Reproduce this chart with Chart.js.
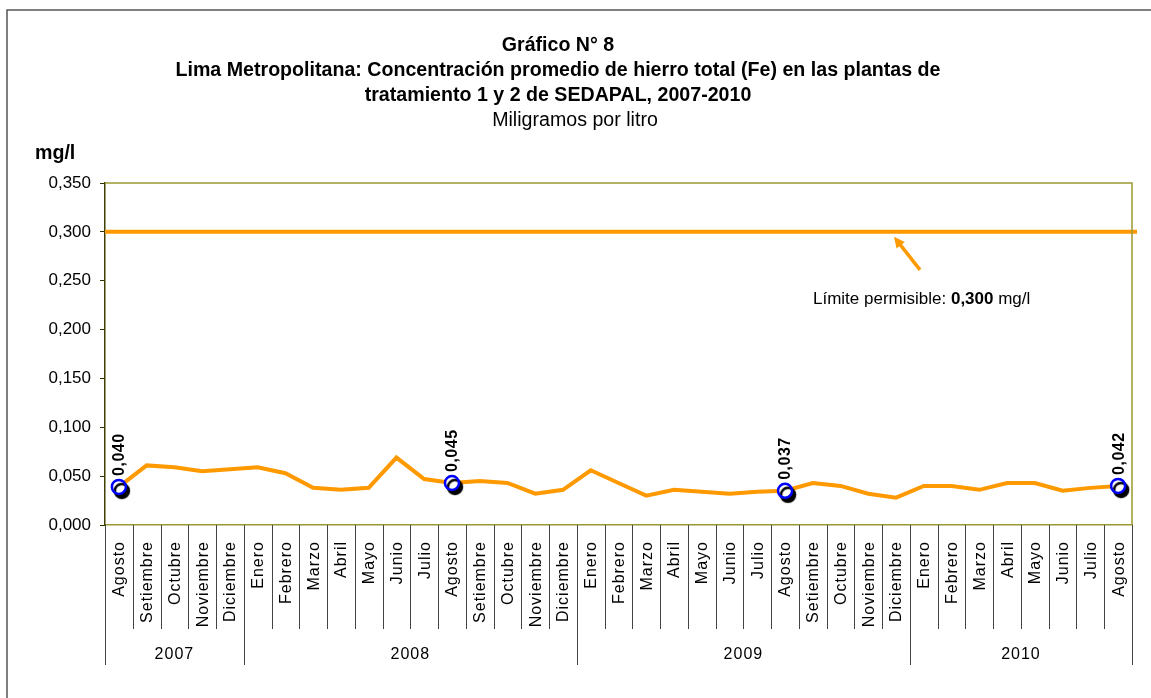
<!DOCTYPE html>
<html>
<head>
<meta charset="utf-8">
<script src="https://cdn.jsdelivr.net/npm/chart.js@4"></script>
<style>
  html, body { margin: 0; padding: 0; background: #fff; }
  #wrap { width: 1151px; height: 698px; position: relative; }
</style>
</head>
<body>
<div id="wrap"><canvas id="feChart" width="1151" height="698"></canvas></div>
<script>
// Meses (Agosto 2007 - Agosto 2010)
const months = [
  'Agosto', 'Setiembre', 'Octubre', 'Noviembre', 'Diciembre',
  'Enero', 'Febrero', 'Marzo', 'Abril', 'Mayo', 'Junio', 'Julio', 'Agosto', 'Setiembre', 'Octubre', 'Noviembre', 'Diciembre',
  'Enero', 'Febrero', 'Marzo', 'Abril', 'Mayo', 'Junio', 'Julio', 'Agosto', 'Setiembre', 'Octubre', 'Noviembre', 'Diciembre',
  'Enero', 'Febrero', 'Marzo', 'Abril', 'Mayo', 'Junio', 'Julio', 'Agosto'
];
const years = ['2007', '2008', '2009', '2010'];
const monthsPerYear = [5, 12, 12, 8];

// Concentracion de hierro total (mg/l)
const fe = [
  0.039, 0.061, 0.059, 0.055, 0.057,
  0.059, 0.053, 0.038, 0.036, 0.038, 0.069, 0.047, 0.043, 0.045, 0.043, 0.032, 0.036,
  0.056, 0.043, 0.030, 0.036, 0.034, 0.032, 0.034, 0.035, 0.043, 0.040, 0.032, 0.028,
  0.040, 0.040, 0.036, 0.043, 0.043, 0.035, 0.038, 0.040
];

// Agostos resaltados
const markIdx = [0, 12, 24, 36];
const markText = ['0,040', '0,045', '0,037', '0,042'];

const limit = 0.300;
const yTicks = [0, 0.05, 0.1, 0.15, 0.2, 0.25, 0.3, 0.35];

const titleLines = [
  'Gráfico N° 8',
  'Lima Metropolitana: Concentración promedio de hierro total (Fe) en las plantas de',
  'tratamiento 1 y 2 de SEDAPAL, 2007-2010'
];
const subtitle = 'Miligramos por litro';

const markData = fe.map((v, i) => markIdx.includes(i) ? v : null);

const SANS = '"Liberation Sans", Arial, sans-serif';

// texto angosto (tipo Arial Narrow) escalando en x
function narrowText(ctx, text, x, y, sx) {
  ctx.save();
  ctx.translate(x, y);
  ctx.scale(sx, 1);
  ctx.fillText(text, 0, 0);
  ctx.restore();
}

const decor = {
  id: 'decor',
  beforeDatasetsDraw(chart) {
    const { ctx, chartArea: a, scales: { y } } = chart;
    // limite permisible
    const ly = y.getPixelForValue(limit);
    ctx.save();
    ctx.strokeStyle = '#FF9900';
    ctx.lineWidth = 4;
    ctx.beginPath();
    ctx.moveTo(a.left, ly);
    ctx.lineTo(a.right + 5, ly);
    ctx.stroke();

    // flecha
    const tipX = 894, tipY = ly + 5;
    const tailX = 920, tailY = ly + 38;
    ctx.lineWidth = 3.5;
    ctx.beginPath();
    ctx.moveTo(tailX, tailY);
    ctx.lineTo(tipX + 4, tipY + 5);
    ctx.stroke();
    const ang = Math.atan2(tipY - tailY, tipX - tailX);
    ctx.fillStyle = '#FF9900';
    ctx.beginPath();
    ctx.moveTo(tipX, tipY);
    ctx.lineTo(tipX - 12 * Math.cos(ang - 0.45), tipY - 12 * Math.sin(ang - 0.45));
    ctx.lineTo(tipX - 12 * Math.cos(ang + 0.45), tipY - 12 * Math.sin(ang + 0.45));
    ctx.closePath();
    ctx.fill();

    // texto del limite
    ctx.fillStyle = '#000';
    ctx.textBaseline = 'alphabetic';
    ctx.textAlign = 'left';
    let tx = 813;
    const tyy = ly + 72;
    const parts = [['Límite permisible: ', ''], ['0,300', 'bold '], [' mg/l', '']];
    parts.forEach(([t, w]) => {
      ctx.font = w + '17px ' + SANS;
      ctx.fillText(t, tx, tyy);
      tx += ctx.measureText(t).width;
    });
    ctx.restore();
  },
  afterDraw(chart) {
    const { ctx, chartArea: a, scales: { x, y } } = chart;
    ctx.save();

    // marco exterior
    ctx.strokeStyle = '#555';
    ctx.lineWidth = 1.5;
    ctx.beginPath();
    ctx.moveTo(7, chart.height);
    ctx.lineTo(7, 10);
    ctx.lineTo(chart.width, 10);
    ctx.stroke();

    // borde superior y derecho del area
    ctx.strokeStyle = '#999933';
    ctx.lineWidth = 1.5;
    ctx.beginPath();
    ctx.moveTo(a.left, a.top);
    ctx.lineTo(a.right, a.top);
    ctx.lineTo(a.right, a.bottom);
    ctx.stroke();

    // titulos
    ctx.fillStyle = '#000';
    ctx.textAlign = 'center';
    ctx.textBaseline = 'middle';
    const cx = 558;
    ctx.font = 'bold 20px ' + SANS;
    const sx = 765 / ctx.measureText(titleLines[1]).width;
    titleLines.forEach((t, i) => narrowText(ctx, t, cx, 45 + i * 25, sx));
    ctx.font = '20px ' + SANS;
    narrowText(ctx, subtitle, 575, 120, sx);
    ctx.textAlign = 'left';
    ctx.font = 'bold 20px ' + SANS;
    narrowText(ctx, 'mg/l', 35, 153, sx);

    // separadores y etiquetas de meses
    const step = (a.right - a.left) / months.length;
    const yearEdges = [0];
    monthsPerYear.reduce((s, n) => { yearEdges.push(s + n); return s + n; }, 0);
    ctx.strokeStyle = '#444';
    ctx.lineWidth = 1;
    for (let i = 0; i <= months.length; i++) {
      const bx = Math.round(a.left + i * step) + 0.5;
      ctx.beginPath();
      ctx.moveTo(bx, a.bottom);
      ctx.lineTo(bx, yearEdges.includes(i) ? a.bottom + 140 : a.bottom + 104);
      ctx.stroke();
    }
    ctx.font = '16px ' + SANS;
    ctx.letterSpacing = '1px';
    ctx.textAlign = 'right';
    ctx.textBaseline = 'middle';
    months.forEach((m, i) => {
      const px = x.getPixelForValue(i);
      ctx.save();
      ctx.translate(px + 1, a.bottom + 16);
      ctx.rotate(-Math.PI / 2);
      ctx.fillText(m, 0, 0);
      ctx.restore();
    });
    ctx.textAlign = 'center';
    years.forEach((yr, k) => {
      const x0 = a.left + yearEdges[k] * step;
      const x1 = a.left + yearEdges[k + 1] * step;
      ctx.fillText(yr, (x0 + x1) / 2, a.bottom + 130);
    });

    // etiquetas de los agostos
    ctx.font = 'bold 16px ' + SANS;
    ctx.letterSpacing = '0.5px';
    ctx.textAlign = 'left';
    markIdx.forEach((idx, k) => {
      const px = x.getPixelForValue(idx);
      const py = y.getPixelForValue(fe[idx]);
      ctx.save();
      ctx.translate(px + 1, py - 11);
      ctx.rotate(-Math.PI / 2);
      ctx.fillText(markText[k], 0, 0);
      ctx.restore();
    });
    ctx.restore();
  }
};

const shadow = {
  id: 'shadow',
  beforeDatasetDraw(chart, args) {
    if (args.index !== 1) return;
    chart.ctx.save();
    chart.ctx.shadowColor = '#000';
    chart.ctx.shadowOffsetX = 3;
    chart.ctx.shadowOffsetY = 4;
    chart.ctx.shadowBlur = 1;
  },
  afterDatasetDraw(chart, args) {
    if (args.index !== 1) return;
    chart.ctx.restore();
  }
};

new Chart(document.getElementById('feChart'), {
  type: 'line',
  data: {
    labels: months,
    datasets: [
      {
        label: 'Hierro total (Fe)',
        data: fe,
        borderColor: '#FF9900',
        borderWidth: 4,
        pointRadius: 0,
        tension: 0,
        order: 1
      },
      {
        label: 'Agosto',
        data: markData,
        showLine: false,
        pointRadius: 7,
        pointBorderWidth: 2.5,
        pointBorderColor: '#0000FF',
        pointBackgroundColor: '#FFFFFF',
        clip: false,
        order: 0
      }
    ]
  },
  options: {
    responsive: false,
    animation: false,
    layout: { padding: { top: 183, left: 7, right: 19, bottom: 0 } },
    plugins: {
      legend: { display: false },
      tooltip: { enabled: false }
    },
    scales: {
      x: {
        offset: true,
        ticks: { display: false },
        grid: { display: false },
        border: { color: '#999933', width: 1.5 },
        afterFit: (s) => { s.height = 173; }
      },
      y: {
        min: 0,
        max: 0.35,
        afterBuildTicks: (s) => { s.ticks = yTicks.map(v => ({ value: v })); },
        ticks: {
          color: '#000',
          padding: 9,
          font: { family: SANS, size: 17 },
          callback: (v) => v.toFixed(3).replace('.', ',')
        },
        grid: { drawOnChartArea: false, tickLength: 5, color: '#333300' },
        border: { color: '#404000', width: 1.5 },
        afterFit: (s) => { s.width = 98; }
      }
    }
  },
  plugins: [decor, shadow]
});
</script>
</body>
</html>
